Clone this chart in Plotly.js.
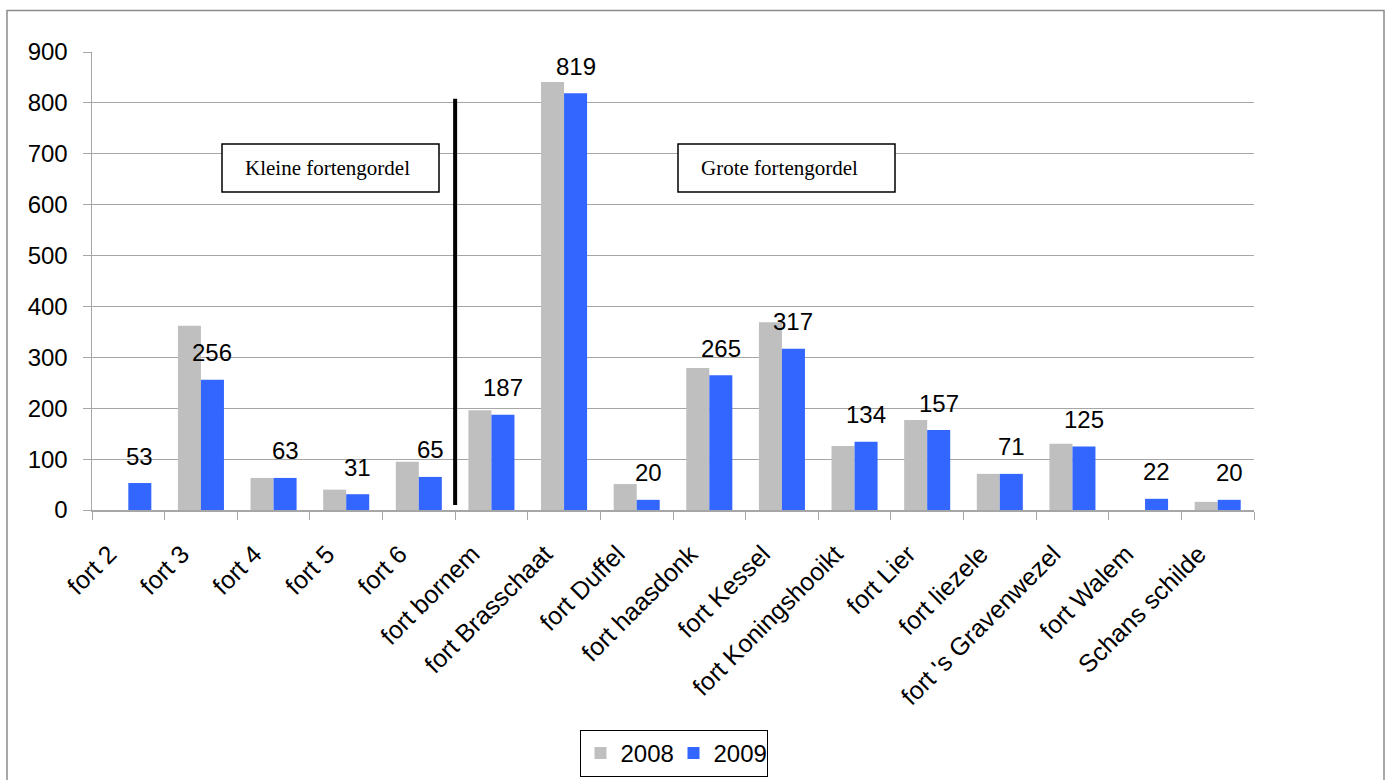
<!DOCTYPE html>
<html>
<head>
<meta charset="utf-8">
<script src="https://cdn.plot.ly/plotly-3.0.1.min.js"></script>
<style>
  html, body { margin: 0; padding: 0; background: #ffffff; }
  #chart { width: 1390px; height: 780px; }
</style>
</head>
<body>
<div id="chart"></div>
<script>
// ---- data ----
const categories = ["fort 2", "fort 3", "fort 4", "fort 5", "fort 6", "fort bornem",
  "fort Brasschaat", "fort Duffel", "fort haasdonk", "fort Kessel", "fort Koningshooikt",
  "fort Lier", "fort liezele", "fort 's Gravenwezel", "fort Walem", "Schans schilde"];
const values2008 = [null, 362, 63, 40, 95, 196, 841, 51, 279, 369, 126, 177, 71, 130, null, 16];
const values2009 = [53, 256, 63, 31, 65, 187, 819, 20, 265, 317, 134, 157, 71, 125, 22, 20];
const seriesNames = ["2008", "2009"];
const boxLabels = ["Kleine fortengordel", "Grote fortengordel"];

// ---- layout constants ----
const W = 1390, H = 780;
const mL = 92, mR = 136, mT = 52, mB = 270;
const plotW = W - mL - mR, plotH = H - mT - mB;
const bargap = 0.366;
const catW = plotW / categories.length;
const blueShift = catW * (1 - bargap) / 4;
const sansFont = "Arial, 'Liberation Sans', Helvetica, sans-serif";
const serifFont = "'Times New Roman', 'Liberation Serif', serif";

const px2x = p => (p - mL) / plotW;
const px2y = p => (H - mB - p) / plotH;

const traces = [
  { type: "bar", name: seriesNames[0], x: categories, y: values2008,
    marker: { color: "#bfbfbf" }, hoverinfo: "x+y" },
  { type: "bar", name: seriesNames[1], x: categories, y: values2009,
    marker: { color: "#3366ff" }, hoverinfo: "x+y" }
];

const annotations = values2009.map((v, i) => ({
  x: categories[i], y: v, xref: "x", yref: "y",
  text: String(v), showarrow: false,
  xshift: blueShift, yshift: 27, yanchor: "middle", xanchor: "center",
  font: { family: sansFont, size: 24, color: "#000000" }
}));

annotations.push({
  x: px2x(243), y: px2y(168), xref: "paper", yref: "paper",
  text: boxLabels[0], showarrow: false, xanchor: "left", yanchor: "middle",
  font: { family: serifFont, size: 21, color: "#000000" }
});
annotations.push({
  x: px2x(699), y: px2y(168), xref: "paper", yref: "paper",
  text: boxLabels[1], showarrow: false, xanchor: "left", yanchor: "middle",
  font: { family: serifFont, size: 21, color: "#000000" }
});

const shapes = [
  // outer chart border
  { type: "rect", xref: "paper", yref: "paper",
    x0: px2x(7), x1: px2x(1384), y0: px2y(795), y1: px2y(10.5),
    line: { color: "#8c8c8c", width: 1.5 }, layer: "below" },
  // text boxes
  { type: "rect", xref: "paper", yref: "paper",
    x0: px2x(222), x1: px2x(439), y0: px2y(192), y1: px2y(144),
    line: { color: "#000000", width: 1.5 }, fillcolor: "#ffffff" },
  { type: "rect", xref: "paper", yref: "paper",
    x0: px2x(678), x1: px2x(895), y0: px2y(192), y1: px2y(144),
    line: { color: "#000000", width: 1.5 }, fillcolor: "#ffffff" },
  // separator line between the two belts
  { type: "line", xref: "x", yref: "y",
    x0: 4.5, x1: 4.5, y0: 10, y1: 808,
    line: { color: "#000000", width: 4 } }
];

const layout = {
  width: W, height: H,
  margin: { l: mL, r: mR, t: mT, b: mB, pad: 0, autoexpand: false },
  paper_bgcolor: "#ffffff", plot_bgcolor: "#ffffff",
  barmode: "group", bargap: bargap, bargroupgap: 0,
  showlegend: true,
  legend: {
    orientation: "h", x: px2x(673.5), xanchor: "center",
    y: px2y(730), yanchor: "top",
    bgcolor: "#ffffff", bordercolor: "#000000", borderwidth: 1,
    font: { family: sansFont, size: 24, color: "#000000" },
    traceorder: "normal", itemwidth: 30,
    entrywidth: 48, entrywidthmode: "pixels"
  },
  xaxis: {
    type: "category", tickangle: -45,
    showline: true, linecolor: "#a6a6a6", linewidth: 1.5,
    ticks: "outside", tickson: "boundaries", ticklen: 8, tickcolor: "#a6a6a6",
    showgrid: false, zeroline: false,
    ticklabelstandoff: 18, ticklabelshift: -19,
    tickfont: { family: sansFont, size: 25, color: "#000000" },
    automargin: false
  },
  yaxis: {
    range: [0, 900], dtick: 100, tick0: 0,
    showline: true, linecolor: "#a6a6a6", linewidth: 1.5,
    ticks: "outside", ticklen: 8, tickcolor: "#a6a6a6",
    showgrid: true, gridcolor: "#a6a6a6", gridwidth: 1,
    zeroline: false, ticklabelstandoff: 10,
    tickfont: { family: sansFont, size: 24, color: "#000000" },
    automargin: false
  },
  annotations: annotations,
  shapes: shapes
};

Plotly.newPlot("chart", traces, layout, { displayModeBar: false, staticPlot: true });
</script>
</body>
</html>
